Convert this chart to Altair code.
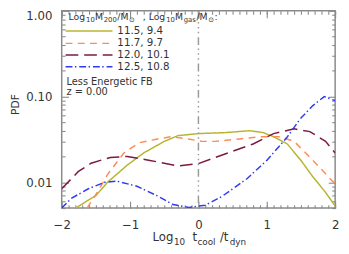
import altair as alt
import pandas as pd

# ---------------- data ----------------
series_names = ["11.5, 9.4", "11.7, 9.7", "12.0, 10.1", "12.5, 10.8"]
series_colors = ["#b5b530", "#ff8c55", "#7b1a45", "#2e3cf0"]
series_dashes = [[1, 0], [7, 5.5], [13, 6], [7, 2.5, 1.5, 3]]

x_a = [-1.8, -1.5, -1.33, -1.04, -0.8, -0.5, -0.3, 0.0, 0.4, 0.75, 0.95, 1.1, 1.3, 1.5, 1.67, 1.85, 2.0]
y_a = [0.0050, 0.0070, 0.0100, 0.0159, 0.022, 0.030, 0.035, 0.037, 0.038, 0.040, 0.038, 0.034, 0.028, 0.018, 0.0117, 0.0078, 0.0053]

x_b = [-1.63, -1.5, -1.33, -1.09, -0.86, -0.6, -0.4, -0.15, 0.05, 0.25, 0.6, 0.9, 1.2, 1.4, 1.57, 1.77, 1.96, 2.0]
y_b = [0.0050, 0.0072, 0.0123, 0.022, 0.029, 0.032, 0.034, 0.032, 0.030, 0.030, 0.032, 0.034, 0.034, 0.030, 0.022, 0.015, 0.0103, 0.0098]

x_c = [-2.0, -1.76, -1.57, -1.29, -1.04, -0.71, -0.3, 0.0, 0.43, 0.8, 1.1, 1.4, 1.63, 1.86, 2.0]
y_c = [0.0084, 0.0133, 0.0167, 0.0195, 0.020, 0.018, 0.0155, 0.0165, 0.022, 0.028, 0.037, 0.042, 0.039, 0.030, 0.022]

x_d = [-2.0, -1.86, -1.61, -1.37, -1.19, -0.9, -0.61, -0.37, -0.14, 0.1, 0.34, 0.71, 1.0, 1.29, 1.49, 1.67, 1.84, 1.96, 2.0]
y_d = [0.0050, 0.0065, 0.0084, 0.0100, 0.0103, 0.0090, 0.0070, 0.0055, 0.0051, 0.0054, 0.0068, 0.011, 0.018, 0.033, 0.055, 0.078, 0.100, 0.092, 0.090]

x_major = [-2, -1, 0, 1, 2]
x_minor = [round(-2 + 0.1 * i, 1) for i in range(41)]
y_major = [0.01, 0.1, 1.0]
y_minor = [0.005, 0.006, 0.007, 0.008, 0.009,
           0.02, 0.03, 0.04, 0.05, 0.06, 0.07, 0.08, 0.09,
           0.2, 0.3, 0.4, 0.5, 0.6, 0.7, 0.8, 0.9]
vline_x = [0]

rows = []
for name, xs, ys in zip(series_names, [x_a, x_b, x_c, x_d], [y_a, y_b, y_c, y_d]):
    for xv, yv in zip(xs, ys):
        rows.append({"series": name, "x": xv, "pdf": yv})
df = pd.DataFrame(rows)

FONT = "DejaVu Sans"
TXT = "#333333"
AX = "#8a8a8a"
W, H = 280, 202

xscale = alt.Scale(domain=[-2, 2], nice=False, zero=False)
yscale = alt.Scale(type="log", domain=[0.005, 1], nice=False)


def axis(orient, values, size, labels=False, fmt=None, flush=False, pad=10):
    kw = dict(orient=orient, values=values, tickSize=size, offset=-size, domain=False,
              grid=False, labels=labels, title=None, tickColor=AX, tickWidth=1.1,
              labelOverlap=False)
    if labels:
        kw.update(labelFont=FONT, labelFontSize=12, labelColor=TXT, labelPadding=pad,
                  labelFlush=flush, format=fmt)
    return alt.Axis(**kw)


def lines_layer(xax, yax, visible=True):
    mk = alt.Chart(df).mark_line(clip=True, strokeWidth=1.5, opacity=1 if visible else 0)
    return mk.encode(
        x=alt.X("x:Q", scale=xscale, axis=xax),
        y=alt.Y("pdf:Q", scale=yscale, axis=yax),
        color=alt.Color("series:N", scale=alt.Scale(domain=series_names, range=series_colors), legend=None),
        strokeDash=alt.StrokeDash("series:N", scale=alt.Scale(domain=series_names, range=series_dashes), legend=None),
        detail="series:N",
    )


main = lines_layer(axis("bottom", x_major, 7, True, "d", pad=12), axis("left", y_major, 7, True, ".2f", True))
minor1 = lines_layer(axis("bottom", x_minor, 3.5), axis("left", y_minor, 3.5), False)
major2 = lines_layer(axis("top", x_major, 7), axis("right", y_major, 7), False)
minor2 = lines_layer(axis("top", x_minor, 3.5), axis("right", y_minor, 3.5), False)

vline = alt.Chart(pd.DataFrame({"x": vline_x})).mark_rule(
    color="#9a9a9a", strokeWidth=1.5, strokeDash=[8, 3.5, 1.5, 3.5, 1.5, 3.5, 1.5, 4]
).encode(x=alt.X("x:Q", scale=xscale, axis=None))

one = pd.DataFrame({"a": [0]})


def txt(s, x, y, size=10.5, angle=None):
    kw = dict(align="left", baseline="middle", font=FONT, fontSize=size, color=TXT, text=s)
    if angle is not None:
        kw.update(angle=angle, align="center")
    return alt.Chart(one).mark_text(**kw).encode(x=alt.value(x), y=alt.value(y))


layers = [main, minor1, major2, minor2, vline]

# legend inside plot
leg_y = [20.7, 33.3, 45.3, 57.3]
for name, col, dash, ly in zip(series_names, series_colors, series_dashes, leg_y):
    layers.append(alt.Chart(one).mark_rule(color=col, strokeWidth=1.5, strokeDash=dash).encode(
        x=alt.value(4), x2=alt.value(52), y=alt.value(ly)))
    layers.append(txt(name, 57, ly, 10.5))

# legend header: Log10M200/M⊙, Log10Mgas/M⊙:
MAIN, SUB = 9.5, 7
hy, sy = 6, 9.5
header = [("Log", 7, MAIN), ("10", 25, SUB), ("M", 34, MAIN), ("200", 43, SUB), ("/M", 57, MAIN),
          ("⊙", 69, SUB), (", Log", 83, MAIN), ("10", 107, SUB), ("M", 116, MAIN), ("gas", 125, SUB),
          ("/M", 138, MAIN), ("⊙", 150, SUB), (":", 156.5, MAIN)]
for s, x, sz in header:
    layers.append(txt(s, x, hy if sz == MAIN else sy, sz))

layers.append(txt("Less Energetic FB", 5, 72.5, 10))
layers.append(txt("z = 0.00", 5, 83.5, 10))

# axis titles
layers.append(txt("PDF", -47, 96, 11, angle=270))
xt = [("Log", 93, 12), ("10", 115, 9), ("t", 134, 12), ("cool", 139, 9), ("/t", 162, 12), ("dyn", 172, 9)]
for s, x, sz in xt:
    layers.append(txt(s, x, 232 if sz == 12 else 237, sz))

chart = alt.layer(*layers).resolve_scale(x="shared", y="shared").resolve_axis(
    x="independent", y="independent"
).properties(
    width=W, height=H,
    autosize=alt.AutoSizeParams(type="none"),
    padding={"left": 55, "top": 0, "right": 6, "bottom": 40},
    background="white",
).configure_view(stroke=AX, strokeWidth=1.5)

chart.save("out.html", embed_options={"renderer": "svg", "actions": False})
